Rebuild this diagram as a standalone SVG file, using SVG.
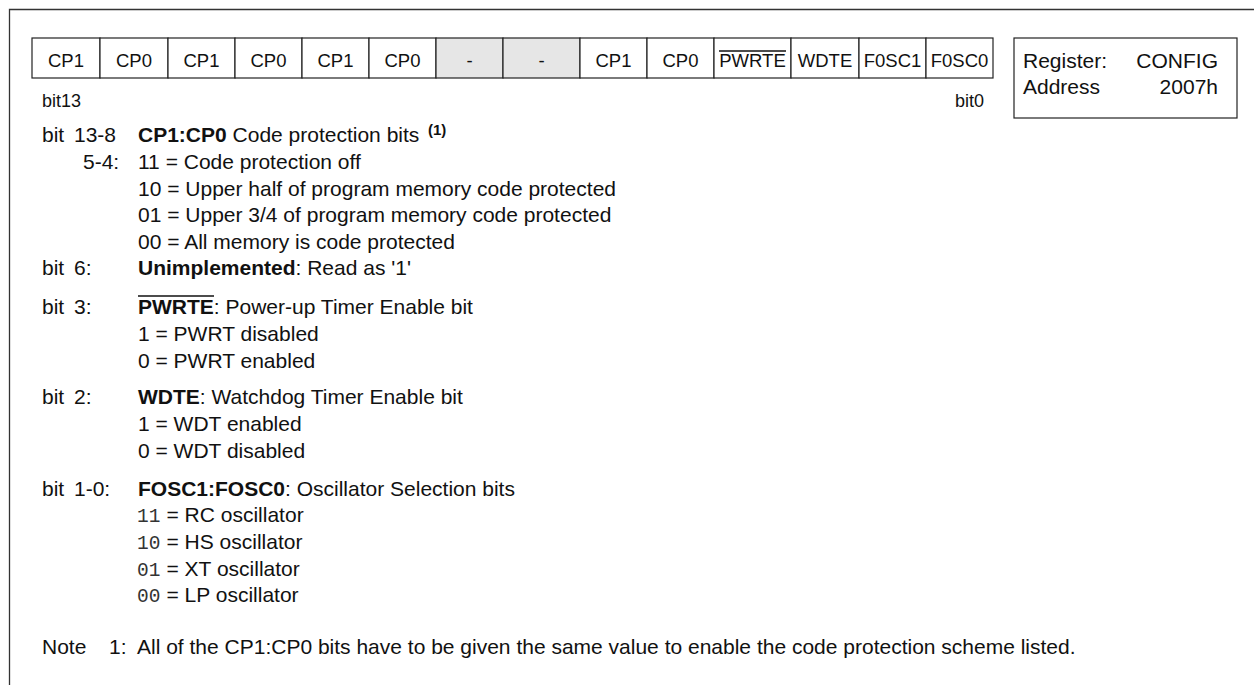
<svg xmlns="http://www.w3.org/2000/svg" width="1254" height="685" viewBox="0 0 1254 685">
<style>
text{font-family:"Liberation Sans",Arial,Helvetica,sans-serif;fill:#111}
.c{font-size:18.5px;text-anchor:middle}
.s{font-size:18px}
.b{font-size:21px}
.bd{font-weight:bold}
.m{font-family:"Liberation Mono","Courier New",monospace;font-size:19.5px;fill:#333}
.cell{fill:#fff;stroke:#222;stroke-width:1.2}
.gray{fill:#e6e6e6;stroke:#222;stroke-width:1.2}
.ol{stroke:#111;stroke-width:1.3}
</style>
<rect width="1254" height="685" fill="#fff"/>
<g id="frame"><path d="M9.5,685 V9.5 H1254" fill="none" stroke="#333" stroke-width="1.3"/></g>
<g id="register-bits">
<rect class="cell" x="32" y="38" width="68" height="40"/>
<rect class="cell" x="100" y="38" width="68" height="40"/>
<rect class="cell" x="168" y="38" width="67" height="40"/>
<rect class="cell" x="235" y="38" width="67" height="40"/>
<rect class="cell" x="302" y="38" width="67" height="40"/>
<rect class="cell" x="369" y="38" width="67" height="40"/>
<rect class="gray" x="436" y="38" width="67" height="40"/>
<rect class="gray" x="503" y="38" width="77" height="40"/>
<rect class="cell" x="580" y="38" width="67" height="40"/>
<rect class="cell" x="647" y="38" width="67" height="40"/>
<rect class="cell" x="714" y="38" width="77" height="40"/>
<rect class="cell" x="791" y="38" width="68" height="40"/>
<rect class="cell" x="859" y="38" width="67" height="40"/>
<rect class="cell" x="926" y="38" width="67" height="40"/>
<text class="c" x="66" y="67">CP1</text>
<text class="c" x="134" y="67">CP0</text>
<text class="c" x="201.5" y="67">CP1</text>
<text class="c" x="268.5" y="67">CP0</text>
<text class="c" x="335.5" y="67">CP1</text>
<text class="c" x="402.5" y="67">CP0</text>
<text class="c" x="469.5" y="67">-</text>
<text class="c" x="541.5" y="67">-</text>
<text class="c" x="613.5" y="67">CP1</text>
<text class="c" x="680.5" y="67">CP0</text>
<text class="c" x="752.5" y="67">PWRTE</text>
<line class="ol" x1="719" y1="51" x2="786" y2="51"/>
<text class="c" x="825" y="67">WDTE</text>
<text class="c" x="892.5" y="67">F0SC1</text>
<text class="c" x="959.5" y="67">F0SC0</text>
<text class="s" x="42" y="107">bit13</text>
<text class="s" x="984" y="107" text-anchor="end">bit0</text>
</g>
<g id="register-box">
<rect class="cell" x="1014" y="38" width="223" height="80"/>
<text class="b" x="1023" y="68">Register:</text>
<text class="b" x="1218" y="68" text-anchor="end">CONFIG</text>
<text class="b" x="1023" y="94">Address</text>
<text class="b" x="1218" y="94" text-anchor="end">2007h</text>
</g>
<g id="description">
<text class="b" x="42" y="142">bit</text>
<text class="b" x="74" y="142">13-8</text>
<text class="b" x="138" y="142"><tspan class="bd">CP1:CP0</tspan> Code protection bits</text>
<text class="bd" x="428" y="135" style="font-size:15px">(1)</text>
<text class="b" x="83" y="169">5-4:</text>
<text class="b" x="138" y="169">11 = Code protection off</text>
<text class="b" x="138" y="195.5">10 = Upper half of program memory code protected</text>
<text class="b" x="138" y="222">01 = Upper 3/4 of program memory code protected</text>
<text class="b" x="138" y="248.5">00 = All memory is code protected</text>
<text class="b" x="42" y="275">bit</text>
<text class="b" x="74" y="275">6:</text>
<text class="b" x="138" y="275"><tspan class="bd">Unimplemented</tspan>: Read as '1'</text>

<text class="b" x="42" y="314">bit</text>
<text class="b" x="74" y="314">3:</text>
<text class="b" x="138" y="314"><tspan class="bd">PWRTE</tspan>: Power-up Timer Enable bit</text>
<line class="ol" x1="138" y1="296" x2="214" y2="296"/>
<text class="b" x="138" y="340.5">1 = PWRT disabled</text>
<text class="b" x="138" y="367.5">0 = PWRT enabled</text>

<text class="b" x="42" y="404">bit</text>
<text class="b" x="74" y="404">2:</text>
<text class="b" x="138" y="404"><tspan class="bd">WDTE</tspan>: Watchdog Timer Enable bit</text>
<text class="b" x="138" y="431">1 = WDT enabled</text>
<text class="b" x="138" y="458">0 = WDT disabled</text>

<text class="b" x="42" y="495.5">bit</text>
<text class="b" x="74" y="495.5">1-0:</text>
<text class="b" x="138" y="495.5"><tspan class="bd">FOSC1:FOSC0</tspan>: Oscillator Selection bits</text>
<text class="m" x="137" y="522">11</text><text class="b" x="166.5" y="522">= RC oscillator</text>
<text class="m" x="137" y="549">10</text><text class="b" x="166.5" y="549">= HS oscillator</text>
<text class="m" x="137" y="575.5">01</text><text class="b" x="166.5" y="575.5">= XT oscillator</text>
<text class="m" x="137" y="602">00</text><text class="b" x="166.5" y="602">= LP oscillator</text>

<text class="b" x="42" y="654">Note</text>
<text class="b" x="109" y="654">1:</text>
<text class="b" x="137" y="654">All of the CP1:CP0 bits have to be given the same value to enable the code protection scheme listed.</text>
</g>
</svg>
